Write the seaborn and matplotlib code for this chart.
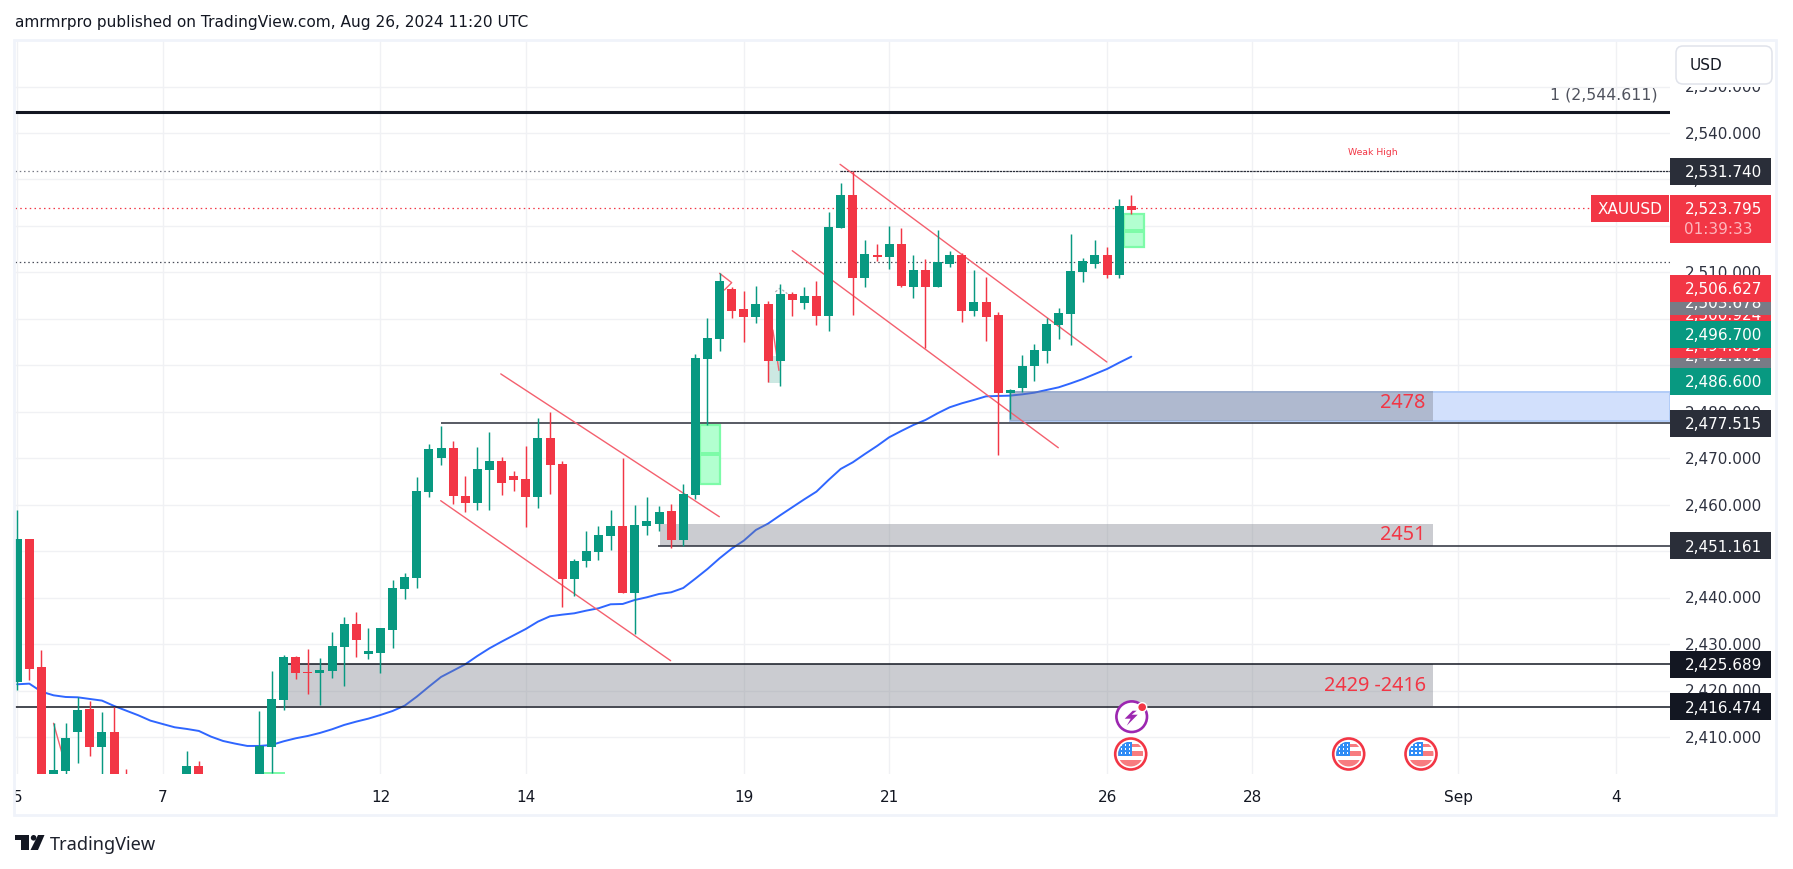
import numpy as np
import pandas as pd
import matplotlib
matplotlib.use("Agg")
import matplotlib.pyplot as plt
from matplotlib.patches import Rectangle, Circle, Polygon, FancyBboxPatch
from matplotlib.transforms import Bbox, IdentityTransform, TransformedBbox
import seaborn as sns

# ---------- data ----------
bar_index = [0,1,2,3,4,5,6,7,8,9,14,15] + list(range(20,93))
opens = [2421.84,2452.62,2425.07,2397,2402.76,2411.08,2416.03,2407.86,2411.08,2401,2398,2403.76,
 2399,2407.85,2417.97,2427.22,2423.99,2423.78,2424.21,2429.37,2434.33,2427.87,2428.08,2433.03,
 2441.86,2444.23,2462.74,2470.05,2472.2,2461.87,2460.37,2467.47,2469.41,2466.18,2465.53,2461.66,
 2474.36,2468.76,2444.01,2447.88,2449.82,2453.27,2455.42,2441.0,2455.42,2455.85,2458.65,2452.4,
 2462.09,2491.36,2495.66,2506.42,2502.12,2500.4,2503.2,2490.93,2505.35,2503.41,2504.92,2500.61,
 2519.55,2526.66,2508.79,2513.74,2513.31,2516.11,2506.85,2510.51,2506.85,2511.8,2513.74,2501.69,
 2503.63,2500.83,2484.04,2485.12,2489.85,2493.08,2498.68,2501.04,2510.08,2511.8,2513.74,2509.44,2524.29]
highs = [2458.86,2452.62,2428.73,2412.95,2413.0,2418.54,2417.76,2415.39,2416.4,2403.12,2406.99,2404.84,
 2415.6,2424.21,2427.65,2427.44,2428.94,2427.01,2432.6,2435.83,2436.91,2433.46,2433.46,2443.79,
 2445.3,2465.96,2473.07,2476.94,2473.71,2466.18,2472.42,2475.65,2470.27,2467.25,2472.64,2478.66,
 2479.95,2469.41,2448.32,2454.34,2455.42,2458.86,2470.05,2459.94,2461.66,2459.72,2460.15,2464.46,
 2492.44,2500.18,2509.8,2506.85,2505.99,2507.07,2503.84,2507.5,2505.78,2506.85,2508.15,2523.0,
 2529.24,2531.74,2516.97,2516.11,2519.98,2519.55,2513.74,2512.88,2519.12,2514.6,2514.17,2510.51,
 2509.01,2501.47,2484.9,2492.22,2494.59,2500.18,2502.34,2518.26,2513.1,2516.97,2515.46,2525.79,2526.66]
lows = [2420.12,2422.27,2396,2394,2399,2404.49,2405.99,2400,2395,2394,2395,2396,
 2397,2402.19,2415.82,2422.49,2419.26,2416.89,2422.7,2420.98,2427.22,2426.79,2423.78,2429.16,
 2439.71,2442.07,2461.66,2468.55,2460.15,2458.43,2458.86,2458.86,2462.09,2462.95,2455.2,2459.29,
 2462.3,2437.98,2440.35,2446.59,2448.1,2450.25,2441.0,2432.17,2453.48,2454.34,2450.68,2451.11,
 2461.23,2477.2,2493.08,2500.18,2495.02,2499.11,2486.41,2485.55,2500.61,2502.12,2498.68,2497.38,
 2519.55,2500.83,2506.85,2512.45,2510.73,2506.85,2504.49,2493.73,2506.85,2511.16,2499.32,2500.61,
 2495.23,2470.7,2478.45,2484.26,2486.62,2490.5,2495.66,2494.37,2507.93,2510.94,2508.79,2508.79,2522.57]
closes = [2452.62,2424.64,2400,2402.9,2409.79,2415.82,2407.86,2411.08,2398,2397,2403.76,2399,
 2408.07,2418.18,2427.22,2423.78,2423.78,2424.42,2429.59,2434.33,2430.88,2428.51,2433.46,2442.07,
 2444.44,2462.95,2471.99,2472.2,2461.87,2460.37,2467.69,2469.41,2464.67,2465.32,2461.66,2474.36,
 2468.55,2444.01,2447.88,2450.04,2453.48,2455.42,2441.0,2455.63,2456.49,2458.43,2452.4,2462.3,
 2491.5,2495.88,2508.15,2501.69,2500.4,2503.2,2490.93,2505.35,2504.06,2504.92,2500.61,2519.77,
 2526.66,2508.79,2513.96,2513.31,2516.11,2507.07,2510.51,2506.85,2512.24,2513.74,2501.69,2503.63,
 2500.4,2484.04,2484.69,2489.85,2493.3,2498.89,2501.26,2510.3,2512.45,2513.74,2509.44,2524.29,2523.43]
moving_avg = [2421.34,2421.48,2419.76,2418.97,2418.61,2418.54,2418.18,2417.83,2416.68,2415.67,
 2414.67,2413.52,2412.80,2412.09,2411.73,2411.30,2410.08,2409.14,2408.57,2408.07,
 2408.07,2408.28,2409.07,2409.72,2410.22,2410.87,2411.66,2412.59,2413.31,2413.95,
 2414.74,2415.60,2416.75,2418.69,2420.84,2422.92,2424.28,2425.65,2427.44,2429.09,
 2430.52,2431.89,2433.25,2434.83,2435.98,2436.33,2436.62,2437.20,2437.70,2438.56,
 2438.63,2439.49,2440.07,2440.78,2441.14,2442.07,2444.08,2446.16,2448.46,2450.54,
 2452.26,2454.56,2455.92,2457.71,2459.44,2461.16,2462.81,2465.32,2467.69,2469.12,
 2470.91,2472.63,2474.50,2475.86,2477.15,2478.23,2479.67,2480.96,2481.82,2482.54,
 2483.32,2483.40,2483.47,2483.75,2484.11,2484.69,2485.26,2486.12,2487.05,2488.13,
 2489.21,2490.57,2491.86]
xtick_bars = [0,12,30,42,60,72,90,102,119,132]
xtick_labels = ['5','7','12','14','19','21','26','28','Sep','4']
price_ticks = list(range(2410,2560,10))
tag_prices = [2500.924,2492.161,2494.4,2503.678,2506.627,2496.700,2486.600,2531.740,2477.515,2451.161,2425.689,2416.474]
tag_texts = ['2,500.924','2,492.161','2,494.875','2,503.678','2,506.627','2,496.700','2,486.600','2,531.740','2,477.515','2,451.161','2,425.689','2,416.474']
tag_colors = ['#f23645','#787b86','#f23645','#787b86','#f23645','#089981','#089981','#2a2e39','#2a2e39','#2a2e39','#131722','#131722']
trend_bars = [(39.93,57.98),(34.97,53.96),(67.95,89.98),(64.0,85.97)]
trend_prices = [(2488.15,2457.41),(2460.86,2426.42),(2533.26,2490.71),(2514.67,2472.26)]

# ---------- theme ----------
sns.set_theme(style="white")
FONT = 'DejaVu Sans'
plt.rcParams['font.family'] = [FONT]
GREEN, RED, BLUE, INK = '#089981', '#f23645', '#2f66ff', '#131722'
GRID = '#f0f1f4'

W, H = 1793, 870
fig = plt.figure(figsize=(W/100, H/100), dpi=100, facecolor='white')
P_L, P_R, P_T, P_B = 15, 1670, 42, 775
ax = fig.add_axes([P_L/W, 1-P_B/H, (P_R-P_L)/W, (P_B-P_T)/H])
PX_BAR = 12.11
PX_PRICE = 4.646
Y0 = 134.0
ymax = 2540 + (Y0-P_T)/PX_PRICE
ymin = 2540 - (P_B-Y0)/PX_PRICE
ax.set_xlim((P_L-17.2)/PX_BAR, (P_R-17.2)/PX_BAR)
ax.set_ylim(ymin, ymax)
ax.set_facecolor('white')
for s in ax.spines.values():
    s.set_visible(False)

def bar_of(px):
    return (px-17.2)/PX_BAR

# grid
ax.set_yticks(price_ticks)
ax.set_yticklabels([])
ax.set_xticks(xtick_bars)
ax.set_xticklabels(xtick_labels, fontsize=11, color=INK)
ax.tick_params(axis='both', length=0, pad=10.5)
ax.grid(True, color=GRID, lw=1.0, zorder=0)
ax.set_axisbelow(True)
box_clip = TransformedBbox(Bbox([[P_L, 0], [W, H]]), IdentityTransform())
for lbl in ax.get_xticklabels():
    lbl.set_clip_box(box_clip)
    lbl.set_clip_on(True)

# zones
ax.add_patch(Rectangle((bar_of(1010), 2477.95), bar_of(1670)-bar_of(1010), 6.25, fc='#d2e0fc', ec='#b2ccf7', lw=1.4, zorder=1))
# moving average
sns.lineplot(x=np.arange(len(moving_avg)), y=moving_avg, ax=ax, color=BLUE, lw=1.4, zorder=2)
for x0, x1, p0, p1 in [(285, 1433, 2416.6, 2425.689), (660, 1433, 2451.161, 2455.75), (1010, 1433, 2477.95, 2484.4)]:
    ax.add_patch(Rectangle((bar_of(x0), p0), bar_of(x1)-bar_of(x0), p1-p0, fc='#787b86', ec='none', alpha=0.38, zorder=3))

# pale teal box and position boxes
ax.add_patch(Rectangle((62, 2486.25), 1, 5.75, fc='#cce8e2', ec='none', zorder=1.5))
for (b0, b1, p0, p1, m0, m1) in [(56.4, 58.03, 2464.45, 2477.2, 2470.5, 2471.4), (91.4, 93.05, 2515.46, 2522.57, 2518.48, 2519.34)]:
    ax.add_patch(Rectangle((b0, p0), b1-b0, p1-p0, fc='#b2ffd0', ec='#7dfba8', lw=1.6, zorder=3))
    ax.add_patch(Rectangle((b0, m0), b1-b0, m1-m0, fc='#7dfba8', ec='none', zorder=3))
ax.add_patch(Rectangle((20.4, ymin), 1.7, 0.5, fc='#7dfba8', ec='none', zorder=3))

# horizontal lines
ax.hlines(2544.611, bar_of(P_L), bar_of(P_R), color=INK, lw=2.2, zorder=3)
ax.hlines(2531.74, bar_of(P_L), bar_of(840), color='#787b86', lw=0.9, linestyles=(0, (1.2, 2.2)), zorder=3)
ax.hlines(2531.74, bar_of(840), bar_of(P_R), color='#2a2e39', lw=0.9, linestyles=(0, (2, 0.6)), zorder=3)
ax.hlines(2523.795, bar_of(P_L), bar_of(1591), color=RED, lw=0.9, linestyles=(0, (1.2, 2.6)), zorder=3)
ax.hlines(2512.3, bar_of(P_L), bar_of(P_R), color='#4a4e5a', lw=0.9, linestyles=(0, (1.2, 2.2)), zorder=3)
ax.hlines(2477.515, bar_of(441), bar_of(P_R), color='#2a2e39', lw=1.1, zorder=3)
ax.hlines(2451.161, bar_of(658), bar_of(P_R), color='#2a2e39', lw=1.1, zorder=3)
ax.hlines(2425.689, bar_of(285), bar_of(P_R), color=INK, lw=1.1, zorder=3)
ax.hlines(2416.474, bar_of(P_L), bar_of(P_R), color=INK, lw=1.1, zorder=3)

# drawn trend lines
for bs, ps in zip(trend_bars, trend_prices):
    ax.plot(bs, ps, color='#f4606e', lw=1.0, zorder=3)
ax.plot([58, 59, 58.4], [2509.8, 2507.79, 2506.21], color='#f4606e', lw=1.0, zorder=3)
ax.plot([3, 3.7], [2412.95, 2406.49], color='#f4606e', lw=1.0, zorder=3)
ax.plot([62.4, 62.9], [2497.6, 2488.9], color='#f4606e', lw=1.0, zorder=3)
ax.plot([62.6, 63.0, 63.6], [2505.8, 2506.6, 2505.4], color='#b0b3ba', lw=0.9, ls=(0, (2, 1.5)), zorder=3)

# candles
df = pd.DataFrame(dict(bar=bar_index, o=opens, h=highs, l=lows, c=closes))
df['color'] = np.where(df.c >= df.o, GREEN, RED)
ax.vlines(df.bar, df.l, df.h, colors=df.color, lw=1.05, zorder=4)
ax.bar(df.bar, (df.c-df.o).abs().clip(lower=0.2), bottom=df[['o', 'c']].min(axis=1), width=9/PX_BAR, color=df.color, lw=0, zorder=4)
ax.set_xlabel('')
ax.set_ylabel('')

# ---------- price scale ----------
axr = fig.add_axes([P_R/W, 1-P_B/H, 101/W, (P_B-P_T)/H], facecolor='white')
axr.set_xlim(0, 1)
axr.set_ylim(ymin, ymax)
axr.axis('off')
XR = (1762.5-P_R)/101
XL = (1684-P_R)/101
for p in price_ticks:
    axr.text(XR, p+0.25, f'{p:,.3f}', ha='right', va='center_baseline', fontsize=11, color='#2e3240', zorder=2, clip_on=True)
TAG_H = 27/PX_PRICE
z = 3
for p, t, c in zip(tag_prices, tag_texts, tag_colors):
    axr.barh(p, 1, height=TAG_H, color=c, lw=0, zorder=z)
    axr.text(XR, p+0.25, t, ha='right', va='center_baseline', fontsize=11, color='white', zorder=z+0.5, clip_on=True)
    z += 1
# live price tag
top = 2540-(196-Y0)/PX_PRICE
bot = 2540-(243.7-Y0)/PX_PRICE
axr.barh((top+bot)/2, 1, height=top-bot, color=RED, lw=0, zorder=z)
axr.text(XR, 2523.795+0.2, '2,523.795', ha='right', va='center_baseline', fontsize=11, color='white', zorder=z+0.5)
axr.text(XL, 2523.795-4.1, '01:39:33', ha='left', va='center_baseline', fontsize=11, color='#fdb6bd', zorder=z+0.5)

# ---------- overlay in pixel coordinates ----------
ov = fig.add_axes([0, 0, 1, 1], facecolor='none', zorder=10)
ov.set_xlim(0, W)
ov.set_ylim(H, 0)
ov.axis('off')
BORDER = '#f0f3fa'
ov.add_patch(Rectangle((14, 41), 1763-1, 775, fc='none', ec=BORDER, lw=2))
ov.add_patch(Rectangle((1670, 44), 104, 44, fc='white', ec='none'))
ov.add_patch(FancyBboxPatch((1679, 50), 90, 32, boxstyle='round,pad=3,rounding_size=7', fc='white', ec='#e0e3eb', lw=1.1))
ov.text(1690, 65.5, 'USD', fontsize=11, color=INK, va='center', ha='left')
ov.add_patch(Rectangle((1591, 196), 78, 27, fc=RED, ec='none'))
ov.text(1630, 209.5, 'XAUUSD', fontsize=11, color='white', va='center', ha='center')
ov.text(15, 23, 'amrmrpro published on TradingView.com, Aug 26, 2024 11:20 UTC', fontsize=11.1, color=INK, va='center', ha='left')
ov.text(1658, 95, '1 (2,544.611)', fontsize=11.3, color='#50535e', va='center', ha='right')
ov.text(1373, 152.3, 'Weak High', fontsize=6.7, color=RED, va='center', ha='center')
for label, yc in [('2429 -2416', 686.5), ('2451', 535), ('2478', 402.7)]:
    ov.text(1425.7, yc, label, fontsize=14.3, family='Noto Sans', color=RED, va='center', ha='right')

# footer logo
ov.add_patch(Polygon([(15,836),(29.3,836),(29.3,851),(21,851),(21,841),(15,841)], fc=INK, ec='none'))
ov.add_patch(Circle((33.6, 838.8), 2.8, fc=INK, ec='none'))
ov.add_patch(Polygon([(38,836),(44.5,836),(38,851),(30.5,851)], fc=INK, ec='none'))
ov.text(50, 845, 'TradingView', fontsize=13.1, family='Noto Sans', color='#1e222d', va='center', ha='left')

# event icons
def flag(cx, cy):
    ov.add_patch(Circle((cx, cy), 15.5, fc='white', ec=RED, lw=1.9))
    clip = Circle((cx, cy), 12.5, transform=ov.transData)
    for a, b in [(-10, -7), (-2.7, 2.3), (6.3, 12.5)]:
        r = Rectangle((cx-12.5, cy+a), 25, b-a, fc='#f77c80', ec='none')
        ov.add_patch(r); r.set_clip_path(clip)
    r = Rectangle((cx-12.5, cy-12.5), 14, 14.5, fc='#2f8cf5', ec='none')
    ov.add_patch(r); r.set_clip_path(clip)
    for dx in (-9, -5, -1):
        for dy in (-9, -5, -1):
            ov.add_patch(Rectangle((cx+dx-0.7, cy+dy-0.7), 1.4, 1.4, fc='white', ec='none'))
for cx in (1130.7, 1348.7, 1421):
    flag(cx, 755)
cx, cy = 1131.7, 717.7
ov.add_patch(Circle((cx, cy), 15.3, fc='white', ec='#9c27b0', lw=1.9))
ov.add_patch(Polygon([(cx+1, cy-6), (cx-7, cy+2), (cx-1, cy+2), (cx-5, cy+9), (cx+6, cy-2), (cx, cy-2), (cx+5, cy-6)], fc='#9c27b0', ec='none'))
ov.add_patch(Circle((cx+10.5, cy-9.5), 5.2, fc='white', ec='none'))
ov.add_patch(Circle((cx+10.5, cy-9.5), 3.8, fc=RED, ec='none'))

fig.savefig('out.png', dpi=100, facecolor='white')
